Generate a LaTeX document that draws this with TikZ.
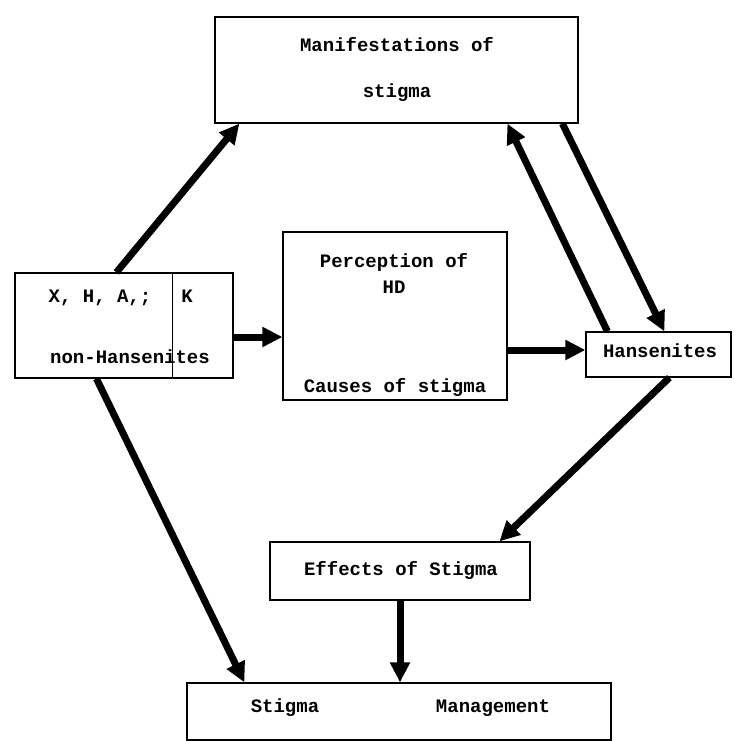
\documentclass[tikz,border=0pt]{standalone}
\usepackage{fontspec}
\setmonofont{Liberation Mono}
\usetikzlibrary{arrows.meta}

\begin{document}
\begin{tikzpicture}[
            x = 1pt, y = -1pt, % pixel grid, y runs downwards
            > = {Triangle[length=20pt, width=19pt]}, % arrow head style
            line width = 7pt % arrow shaft
        ]

        \tikzstyle{box}=[
            draw = black,
            line width = 1.2pt,
            rectangle,
            inner sep = 0pt
        ]
        \tikzstyle{txt}=[
            font = \ttfamily\bfseries\fontsize{19}{22}\selectfont,
            text height = 1.6ex,
            text depth = .3ex,
            inner sep = 0pt
        ]

        \useasboundingbox (0,0) rectangle (734,741);

        % boxes
        \node[box, minimum width=363pt, minimum height=106pt] (ms) at (396.5,70) {};
        \node[box, minimum width=218pt, minimum height=105pt] (nh) at (124,325.5) {};
        \node[box, minimum width=224pt, minimum height=168pt] (pc) at (395,316) {};
        \node[box, minimum width=145pt, minimum height=45pt] (hs) at (658.5,354.5) {};
        \node[box, minimum width=260pt, minimum height=58pt] (ef) at (400,571) {};
        \node[box, minimum width=424pt, minimum height=57pt] (sm) at (399,711.5) {};
        \draw[line width=1pt] ([xshift=158pt]nh.north west) -- ([xshift=158pt]nh.south west);

        % texts
        \node[txt] (ms1) at (397,49) {Manifestations of};
        \node[txt] (ms2) at (397,95) {stigma};
        \node[txt] (nh1) at (100,300) {X, H, A,;};
        \node[txt] (nh2) at (187,300) {K};
        \node[txt] (nh3) at (130,361) {non-Hansenites};
        \node[txt] (pc1) at (394,265) {Perception of};
        \node[txt] (pc2) at (394,291) {HD};
        \node[txt] (pc3) at (395,390) {Causes of stigma};
        \node[txt] (hs1) at (660,355) {Hansenites};
        \node[txt] (ef1) at (401,573) {Effects of Stigma};
        \node[txt] (sm1) at (285,710) {Stigma};
        \node[txt] (sm2) at (493,710) {Management};

        \path[->] ([xshift=102pt]nh.north west) edge ([xshift=25pt]ms.south west);
        \path[->] ([yshift=-11.5pt]nh.east) edge ([yshift=-21pt]pc.west);
        \path[->] ([yshift=-34pt]pc.east) edge ([yshift=4.5pt]hs.west);
        \path[->] ([xshift=22pt]hs.north west) edge ([xshift=293pt]ms.south west);
        \path[->] ([xshift=348pt]ms.south west) edge ([xshift=79pt]hs.north west);
        \path[->] ([xshift=84pt]hs.south west) edge ([xshift=230pt]ef.north west);
        \path[->] (ef.south) edge (ef.south |- sm.north);
        \path[->] ([xshift=82pt]nh.south west) edge ([xshift=58pt]sm.north west);

    \end{tikzpicture}
\end{document}
